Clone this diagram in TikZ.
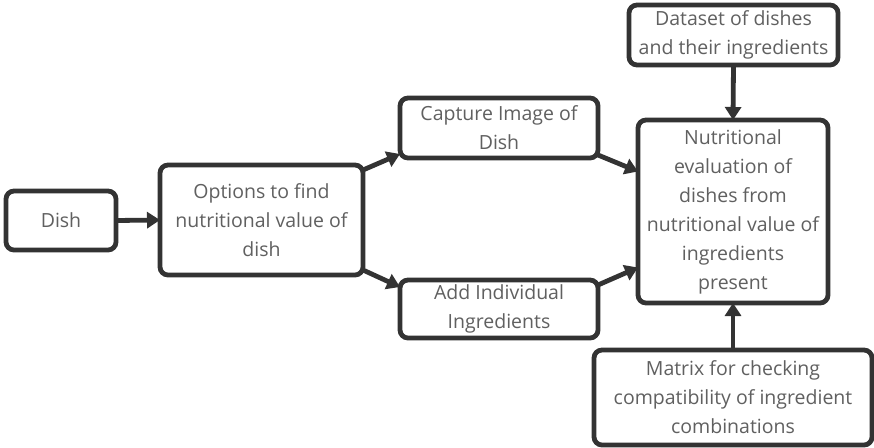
\documentclass[tikz,border=0pt]{standalone}
\usepackage{fontspec}
\setmainfont{Open Sans}
\usetikzlibrary{arrows.meta,calc}
\definecolor{edge}{HTML}{333333}
\definecolor{label}{HTML}{606060}
\tikzset{
  box/.style={draw=edge, line width=4.8pt, rounded corners=8pt, fill=white,
    align=center, text=label, font=\fontsize{19.5}{29}\selectfont,
    inner sep=0pt, outer sep=0pt},
  flow/.style={draw=edge, line width=4.8pt,
    -{Triangle[length=13pt,width=16pt]}}
}
\begin{document}
\begin{tikzpicture}[x=1pt,y=-1pt]
  \useasboundingbox (0,0) rectangle (874,447);
  % boxes, given by centre and size in pixels
  \node[box, minimum width=110pt, minimum height=59pt] (dish) at (61,220.5) {Dish};
  \node[box, minimum width=203pt, minimum height=110pt] (opt) at (261.5,220)
    {Options to find\\nutritional value of\\dish};
  \node[box, minimum width=198pt, minimum height=60pt] (cap) at (499,128)
    {Capture Image of\\Dish};
  \node[box, minimum width=198pt, minimum height=58pt] (add) at (499,309)
    {Add Individual\\Ingredients};
  \node[box, minimum width=190pt, minimum height=183pt] (nut) at (733,211.5)
    {Nutritional\\evaluation of\\dishes from\\nutritional value of\\ingredients\\present};
  \node[box, minimum width=209pt, minimum height=60pt] (ds) at (733.5,35)
    {Dataset of dishes\\and their ingredients};
  \node[box, minimum width=278pt, minimum height=95pt] (mat) at (733,397.5)
    {Matrix for checking\\compatibility of ingredient\\combinations};
  % connectors
  \draw[flow] (dish.east) -- (opt.west);
  \draw[flow] ([yshift=50pt]opt.east) -- ([yshift=-26pt]cap.west);
  \draw[flow] ([yshift=-50pt]opt.east) -- ([yshift=22pt]add.west);
  \draw[flow] ([yshift=-27pt]cap.east) -- ([yshift=40pt]nut.west);
  \draw[flow] ([yshift=24pt]add.east) -- ([yshift=-56pt]nut.west);
  \draw[flow] (ds.south) -- (nut.north);
  \draw[flow] (mat.north) -- (nut.south);
\end{tikzpicture}
\end{document}
